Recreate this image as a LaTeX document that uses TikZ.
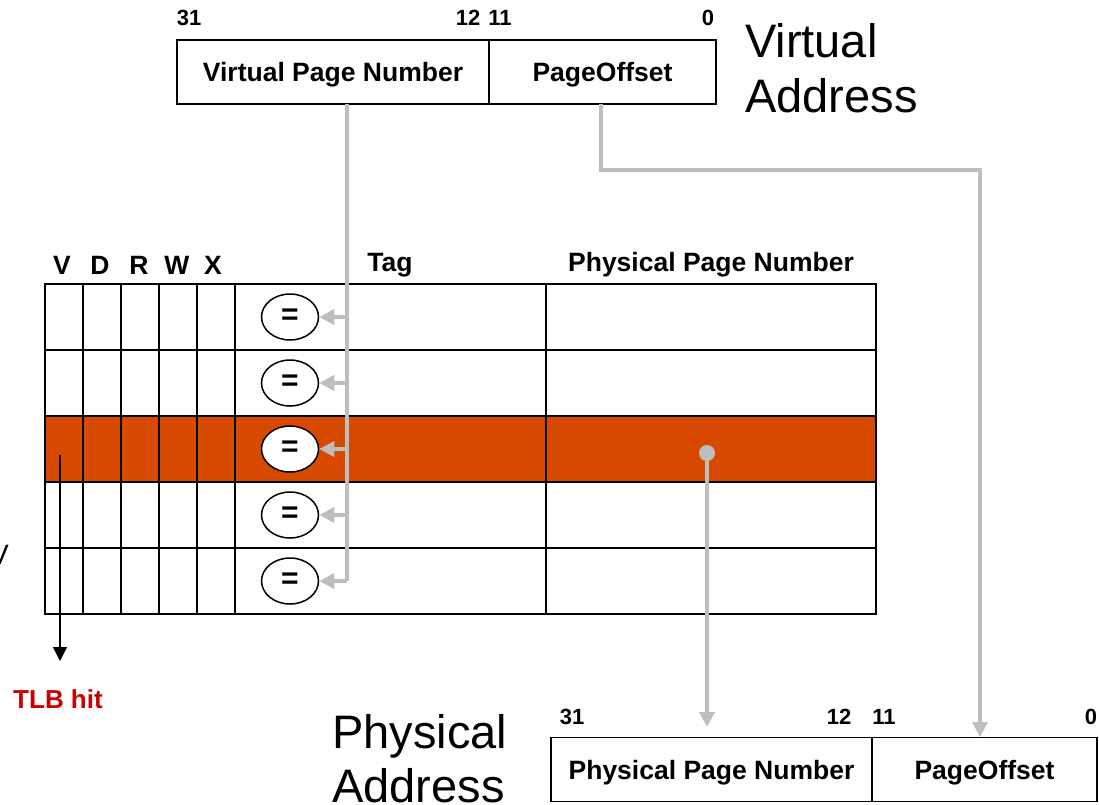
\documentclass[tikz,border=0pt]{standalone}
\usepackage{fontspec}
\setmainfont{Liberation Sans}
\usetikzlibrary{arrows.meta,shapes.geometric,calc}
\definecolor{hitrow}{RGB}{216,73,0}
\definecolor{wire}{RGB}{190,190,190}
\definecolor{hitred}{RGB}{204,0,0}
\tikzset{
  field/.style={draw=black, line width=1.5, minimum height=64, inner sep=0, text depth=0pt, font=\bfseries\fontsize{26.5}{30}\selectfont},
  bitno/.style={font=\bfseries\fontsize{22}{24}\selectfont, inner sep=0},
  hdr/.style={font=\bfseries\fontsize{26.5}{30}\selectfont, inner sep=0},
  big/.style={font=\fontsize{47}{54}\selectfont, inner sep=0, anchor=base west},
  cell/.style={draw=black, line width=1.5, minimum height=66, inner sep=0, outer sep=0},
  eqbox/.style={ellipse, draw=black, line width=1.5, fill=white, minimum width=57, minimum height=46, inner sep=0, font=\bfseries\fontsize{30}{30}\selectfont},
  wireline/.style={draw=wire, line width=3.5},
  wirearrow/.style={wireline, -{Triangle[length=15,width=15]}},
}
\begin{document}
\begin{tikzpicture}[x=1pt,y=-1pt]
\useasboundingbox (0,0) rectangle (1099,804);

% virtual address
\node[field, minimum width=312] (vpn) at (333,72) {Virtual Page Number};
\node[field, minimum width=227] (vpo) at (602.5,72) {PageOffset};
\node[bitno] (v31) at (189,18) {31};
\node[bitno] (v12) at (468,18) {12};
\node[bitno] (v11) at (500,18) {11};
\node[bitno] (v0) at (708,18) {0};
\node[big] (va1) at (745,57) {Virtual};
\node[big] (va2) at (745,112) {Address};

% TLB column headings
\node[hdr] (hv) at (62,265) {V};
\node[hdr] (hd) at (100,265) {D};
\node[hdr] (hr) at (139,265) {R};
\node[hdr] (hw) at (177,265) {W};
\node[hdr] (hx) at (213,265) {X};
\node[hdr] (htag) at (390,265) {Tag};
\node[hdr] (hppn) at (711,265) {Physical Page Number};

% TLB entries
\foreach \r in {1,...,5}{
  \pgfmathsetmacro{\yc}{284+66*(\r-1)+33}
  \ifnum\r=3 \def\fc{hitrow}\else\def\fc{white}\fi
  \node[cell, fill=\fc, minimum width=38] (cv\r) at (64,\yc) {};
  \node[cell, fill=\fc, minimum width=38] (cd\r) at (102,\yc) {};
  \node[cell, fill=\fc, minimum width=38] (cr\r) at (140,\yc) {};
  \node[cell, fill=\fc, minimum width=38] (cw\r) at (178,\yc) {};
  \node[cell, fill=\fc, minimum width=38] (cx\r) at (216,\yc) {};
  \node[cell, fill=\fc, minimum width=311] (ct\r) at (390.5,\yc) {};
  \node[cell, fill=\fc, minimum width=330] (cp\r) at (711,\yc) {};
  \node[eqbox] (eq\r) at (290,\yc) {=};
}

% tag comparison: virtual page number fanned out to every comparator
\coordinate (vtap) at (347,104);
\draw[wireline] (vtap) -- (vtap |- eq5.east);
\foreach \r in {1,...,5}{
  \draw[wirearrow] (vtap |- eq\r.east) -- (eq\r.east);
}

% page offset passed straight through
\coordinate (otap) at (601,104);
\coordinate (obend) at (601,170);
\coordinate (oin) at (980,737);
\draw[wirearrow] (otap) -- (obend) -- (oin |- obend) -- (oin);

% physical page number from the matching entry
\node[circle, fill=wire, minimum size=16, inner sep=0] (pdot) at (707,453) {};
\coordinate (pin) at (707,727);
\draw[wirearrow] (pdot.center) -- (pin);

% hit signal from the valid bit
\coordinate (hsrc) at (60,455);
\coordinate (hdst) at (60,661);
\draw[line width=1.5, -{Triangle[length=14,width=14]}] (hsrc) -- (hdst);
\node[font=\bfseries\fontsize{26}{28}\selectfont, text=hitred, inner sep=0] (hit) at (58,699) {TLB hit};
\node[font=\fontsize{28}{30}\selectfont, inner sep=0, anchor=east] (edgev) at (9,555) {V};

% physical address
\node[field, minimum width=321] (ppn) at (711.5,769.5) {Physical Page Number};
\node[field, minimum width=225] (ppo) at (984.5,769.5) {PageOffset};
\node[bitno] (p31) at (572,717) {31};
\node[bitno] (p12) at (839,717) {12};
\node[bitno] (p11) at (884,717) {11};
\node[bitno] (p0) at (1091,717) {0};
\node[big] (pa1) at (332,748) {Physical};
\node[big] (pa2) at (332,802) {Address};
\end{tikzpicture}
\end{document}
